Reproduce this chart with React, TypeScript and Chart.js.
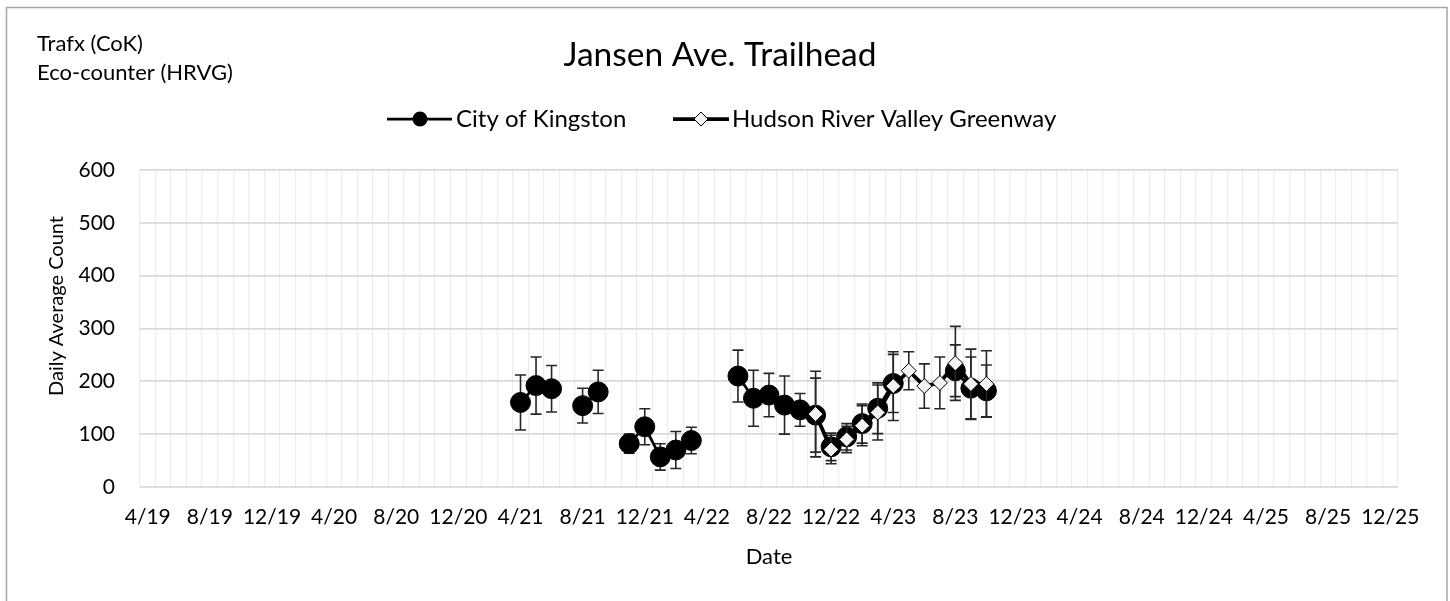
import React, { useEffect, useRef } from "react";
import { Chart, registerables } from "chart.js";

Chart.register(...registerables);

// ---- Categories (one per month) ----
const monthLabels = [
  "4/19", "5/19", "6/19", "7/19", "8/19", "9/19", "10/19", "11/19", "12/19",
  "1/20", "2/20", "3/20", "4/20", "5/20", "6/20", "7/20", "8/20", "9/20", "10/20", "11/20", "12/20",
  "1/21", "2/21", "3/21", "4/21", "5/21", "6/21", "7/21", "8/21", "9/21", "10/21", "11/21", "12/21",
  "1/22", "2/22", "3/22", "4/22", "5/22", "6/22", "7/22", "8/22", "9/22", "10/22", "11/22", "12/22",
  "1/23", "2/23", "3/23", "4/23", "5/23", "6/23", "7/23", "8/23", "9/23", "10/23", "11/23", "12/23",
  "1/24", "2/24", "3/24", "4/24", "5/24", "6/24", "7/24", "8/24", "9/24", "10/24", "11/24", "12/24",
  "1/25", "2/25", "3/25", "4/25", "5/25", "6/25", "7/25", "8/25", "9/25", "10/25", "11/25", "12/25",
];

// ---- City of Kingston (Trafx) ----
const kingstonMonths = [
  "4/21", "5/21", "6/21", "8/21", "9/21", "11/21", "12/21", "1/22", "2/22", "3/22",
  "6/22", "7/22", "8/22", "9/22", "10/22", "11/22", "12/22", "1/23", "2/23", "3/23", "4/23",
  "8/23", "9/23", "10/23",
];
const kingstonValues = [
  160, 192, 186, 154, 180, 82, 114, 57, 70, 88,
  210, 168, 174, 155, 146, 136, 76, 95, 120, 149, 196,
  220, 187, 182,
];
const kingstonErrors = [
  52, 54, 44, 33, 41, 18, 34, 25, 35, 25,
  49, 53, 41, 55, 31, 70, 26, 25, 37, 48, 55,
  49, 59, 49,
];

// ---- Hudson River Valley Greenway (Eco-counter) ----
const hrvgMonths = [
  "11/22", "12/22", "1/23", "2/23", "3/23", "4/23", "5/23", "6/23", "7/23", "8/23", "9/23", "10/23",
];
const hrvgValues = [138, 71, 90, 116, 141, 191, 220, 191, 197, 234, 195, 195];
const hrvgErrors = [81, 27, 25, 38, 52, 65, 36, 42, 49, 70, 66, 63];

const yTicks = [0, 100, 200, 300, 400, 500, 600];

const FONT = "Lato, 'Open Sans', sans-serif";

function align(months: string[], values: number[]) {
  return monthLabels.map((m) => {
    const i = months.indexOf(m);
    return i >= 0 ? values[i] : null;
  });
}

const errorBarPlugin = {
  id: "errorBars",
  beforeDatasetDraw(chart: any, args: any) {
    const ds = chart.data.datasets[args.index];
    const errs = ds.errors as (number | null)[];
    if (!errs) return;
    const yScale = chart.scales.y;
    const ctx = chart.ctx;
    ctx.save();
    ctx.strokeStyle = "#262626";
    ctx.lineWidth = 1.6;
    args.meta.data.forEach((pt: any, i: number) => {
      const v = ds.data[i];
      const e = errs[i];
      if (v == null || e == null) return;
      const x = pt.x;
      const yt = yScale.getPixelForValue(v + e);
      const yb = yScale.getPixelForValue(Math.max(0, v - e));
      ctx.beginPath();
      ctx.moveTo(x, yt);
      ctx.lineTo(x, yb);
      ctx.moveTo(x - 5.5, yt);
      ctx.lineTo(x + 5.5, yt);
      ctx.moveTo(x - 5.5, yb);
      ctx.lineTo(x + 5.5, yb);
      ctx.stroke();
    });
    ctx.restore();
  },
};

const decorPlugin = {
  id: "decor",
  beforeDraw(chart: any) {
    const ctx = chart.ctx;
    ctx.save();
    ctx.fillStyle = "#ffffff";
    ctx.fillRect(0, 0, chart.width, chart.height);
    ctx.strokeStyle = "#a6a6a6";
    ctx.lineWidth = 1.5;
    ctx.strokeRect(6.5, 7.5, 1440.5, 700);
    ctx.restore();
  },
  afterDraw(chart: any) {
    const ctx = chart.ctx;
    const area = chart.chartArea;
    ctx.save();
    ctx.fillStyle = "#000";
    ctx.textBaseline = "middle";

    // Title
    ctx.font = `33.5px ${FONT}`;
    ctx.textAlign = "center";
    ctx.fillText("Jansen Ave. Trailhead", 720, 55);

    // Source notes
    ctx.font = `22px ${FONT}`;
    ctx.textAlign = "left";
    ctx.fillText("Trafx (CoK)", 37, 44);
    ctx.fillText("Eco-counter (HRVG)", 37, 73);

    // Legend
    const ly = 119;
    ctx.font = `24px ${FONT}`;
    ctx.strokeStyle = "#000";
    ctx.lineWidth = 2.75;
    ctx.beginPath();
    ctx.moveTo(387, ly);
    ctx.lineTo(452, ly);
    ctx.stroke();
    ctx.beginPath();
    ctx.arc(420, ly, 7.5, 0, Math.PI * 2);
    ctx.fillStyle = "#000";
    ctx.fill();
    ctx.fillText("City of Kingston", 456, ly);

    ctx.lineWidth = 3.75;
    ctx.beginPath();
    ctx.moveTo(673, ly);
    ctx.lineTo(729, ly);
    ctx.stroke();
    ctx.beginPath();
    ctx.moveTo(701, ly - 7);
    ctx.lineTo(708, ly);
    ctx.lineTo(701, ly + 7);
    ctx.lineTo(694, ly);
    ctx.closePath();
    ctx.fillStyle = "#f2f2f2";
    ctx.fill();
    ctx.lineWidth = 1;
    ctx.stroke();
    ctx.fillStyle = "#000";
    ctx.fillText("Hudson River Valley Greenway", 732, ly);

    // Axis titles
    ctx.textAlign = "center";
    ctx.font = `22px ${FONT}`;
    ctx.fillText("Date", (area.left + area.right) / 2, 557);
    ctx.font = `20px ${FONT}`;
    ctx.translate(57, 306);
    ctx.rotate(-Math.PI / 2);
    ctx.fillText("Daily Average Count", 0, 0);
    ctx.restore();
  },
};

export default function App() {
  const ref = useRef<HTMLCanvasElement | null>(null);

  useEffect(() => {
    if (!ref.current) return;
    const chart = new Chart(ref.current, {
      type: "line",
      data: {
        labels: monthLabels,
        datasets: [
          {
            label: "City of Kingston",
            data: align(kingstonMonths, kingstonValues),
            errors: align(kingstonMonths, kingstonErrors),
            borderColor: "#000",
            backgroundColor: "#000",
            borderWidth: 2.75,
            pointStyle: "circle",
            pointRadius: 10,
            pointBackgroundColor: "#000",
            pointBorderColor: "#000",
            pointBorderWidth: 1,
            spanGaps: false,
            tension: 0,
            order: 1,
          } as any,
          {
            label: "Hudson River Valley Greenway",
            data: align(hrvgMonths, hrvgValues),
            errors: align(hrvgMonths, hrvgErrors),
            borderColor: "#000",
            backgroundColor: "#f2f2f2",
            borderWidth: 3.75,
            pointStyle: "rectRot",
            pointRadius: 7.5,
            pointBackgroundColor: "#f2f2f2",
            pointBorderColor: "#000",
            pointBorderWidth: 1,
            spanGaps: false,
            tension: 0,
            order: 0,
          } as any,
        ],
      },
      options: {
        responsive: false,
        animation: false,
        layout: { padding: { left: 0, top: 170, right: 52, bottom: 0 } },
        plugins: {
          legend: { display: false },
          title: { display: false },
          tooltip: { enabled: false },
        },
        scales: {
          x: {
            type: "category",
            offset: true,
            grid: { offset: true, color: "#ededed", lineWidth: 1.25, drawTicks: false },
            border: { display: false },
            ticks: {
              autoSkip: false,
              maxRotation: 0,
              minRotation: 0,
              padding: 18,
              color: "#000",
              font: { family: FONT, size: 21 },
              callback: (_v: any, i: number) => (i % 4 === 0 ? monthLabels[i] : ""),
            },
            afterFit: (s: any) => {
              s.height = 114;
            },
          },
          y: {
            min: yTicks[0],
            max: yTicks[yTicks.length - 1],
            afterBuildTicks: (s: any) => {
              s.ticks = yTicks.map((v) => ({ value: v }));
            },
            ticks: {
              padding: 25,
              color: "#000",
              font: { family: FONT, size: 21 },
            },
            grid: { color: "#d9d9d9", lineWidth: 1.75, drawTicks: false },
            border: { display: false },
            afterFit: (s: any) => {
              s.width = 140;
            },
          },
        },
      } as any,
      plugins: [errorBarPlugin, decorPlugin],
    });
    return () => chart.destroy();
  }, []);

  return (
    <div style={{ position: "absolute", left: 0, top: 0, width: 1450, height: 601, background: "#fff" }}>
      <canvas ref={ref} width={1450} height={601} style={{ display: "block" }} />
    </div>
  );
}
